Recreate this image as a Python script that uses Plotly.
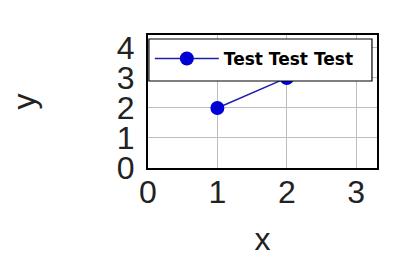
import plotly.graph_objects as go

x_vals = [1, 2]
y_vals = [2, 3]
series_name = "Test Test Test"
x_ticks = [0, 1, 2, 3]
y_ticks = [0, 1, 2, 3, 4]

fig = go.Figure()
fig.add_trace(go.Scatter(
    x=x_vals, y=y_vals, mode="lines+markers", name=series_name,
    line=dict(color="#1f1fa6", width=1.5),
    marker=dict(color="#0000d4", size=14),
    showlegend=True,
))

# legend box (drawn above data, legend text sits on top of it)
fig.add_shape(type="rect", xref="paper", yref="paper",
              x0=0.004, x1=0.978, y0=0.654, y1=0.970,
              fillcolor="white", line=dict(color="black", width=1.2), layer="above")

tick_font = dict(family="Liberation Sans, Arial, sans-serif", size=32, color="#222")
fig.update_layout(
    width=417, height=278,
    margin=dict(l=148, r=40, t=35, b=110),
    paper_bgcolor="white", plot_bgcolor="white",
    showlegend=True,
    legend=dict(
        orientation="h",
        x=0.008, y=0.82, xanchor="left", yanchor="middle",
        bgcolor="rgba(0,0,0,0)", borderwidth=0,
        font=dict(family="DejaVu Sans", size=17, color="black", weight="bold"),
        itemwidth=64,
    ),
    xaxis=dict(
        range=[0, 3.3], tickvals=x_ticks, ticktext=[str(t) for t in x_ticks],
        showgrid=True, gridcolor="#bdbdbd", gridwidth=1,
        showline=True, linecolor="black", linewidth=2, mirror=True,
        zeroline=False, ticks="", tickfont=tick_font, ticklabelstandoff=-5,
        automargin=False,
        title=dict(text="x", font=dict(family="Liberation Sans, Arial, sans-serif", size=32, color="#222"), standoff=18),
    ),
    yaxis=dict(
        range=[0, 4.43], tickvals=y_ticks, ticktext=[str(t) for t in y_ticks],
        showgrid=True, gridcolor="#bdbdbd", gridwidth=1,
        showline=True, linecolor="black", linewidth=2, mirror=True,
        zeroline=False, ticks="", tickfont=tick_font, ticklabelstandoff=5,
        automargin=False,
        title=dict(text="y", font=dict(family="Liberation Sans, Arial, sans-serif", size=32, color="#222"), standoff=72),
    ),
)

fig.write_html("out.html")
